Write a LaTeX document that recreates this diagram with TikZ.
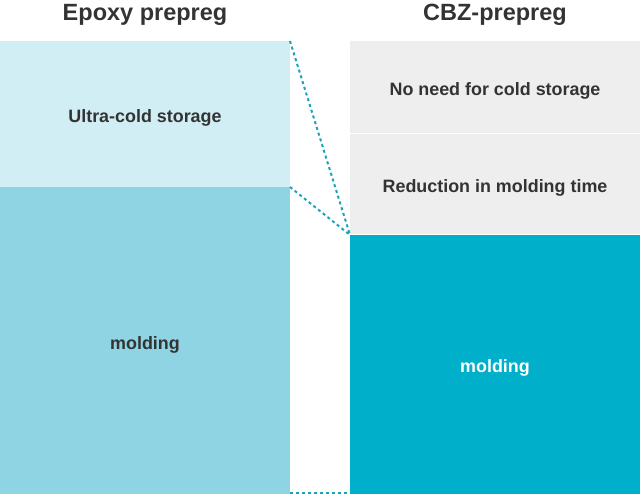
\documentclass[tikz,border=0pt]{standalone}
\usepackage{fontspec}
\setmainfont{Liberation Sans}
\definecolor{txt}{HTML}{333333}
\definecolor{lightcyan}{HTML}{D1EEF4}
\definecolor{midcyan}{HTML}{8ED4E2}
\definecolor{lgray}{HTML}{EEEEEE}
\definecolor{teal}{HTML}{00AFC9}
\definecolor{dashc}{HTML}{1AA3B8}
\begin{document}
\begin{tikzpicture}[x=1pt,y=-1pt,
  block/.style={anchor=north west, inner sep=0pt, outer sep=0pt,
    text height=21pt, text depth=4pt,
    font=\fontsize{17.9}{20}\selectfont\bfseries, text=txt},
  title/.style={font=\fontsize{23.5}{26}\selectfont\bfseries, text=txt, inner sep=0pt},
  link/.style={draw=dashc, line width=2pt, dash pattern=on 3pt off 3pt}]
\useasboundingbox (0,0) rectangle (640,494);
\node[title] (t1) at (145,15) {Epoxy prepreg};
\node[title] (t2) at (495,15) {CBZ-prepreg};
\node[block, fill=lightcyan, minimum width=290pt, minimum height=146pt] (cold) at (0,41) {Ultra-cold storage};
\node[block, fill=midcyan, minimum width=290pt, minimum height=307pt] (moldL) at (0,187) {molding};
\node[block, fill=lgray, minimum width=290pt, minimum height=92pt] (nocold) at (350,41) {No need for cold storage};
\node[block, fill=lgray, minimum width=290pt, minimum height=100pt] (reduce) at (350,134) {Reduction in molding time};
\node[block, fill=teal, text=white, minimum width=290pt, minimum height=259pt] (moldR) at (350,235) {molding};
\coordinate (bl) at (290,493);
\coordinate (br) at (350,493);
\draw[link] (cold.north east) -- (moldR.north west);
\draw[link] (moldL.north east) -- (moldR.north west);
\draw[link] (bl) -- (br);
\end{tikzpicture}
\end{document}
